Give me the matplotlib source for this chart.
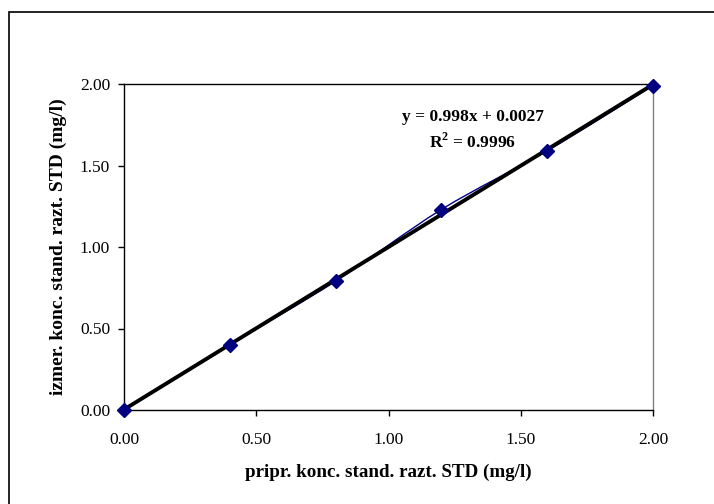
import numpy as np
import matplotlib.pyplot as plt
from matplotlib.path import Path
from matplotlib.patches import PathPatch, Rectangle

# measured vs prepared standard concentrations (mg/l)
x_prep = [0.0, 0.4, 0.8, 1.2, 1.6, 2.0]
y_meas = [0.0, 0.40, 0.79, 1.23, 1.59, 1.99]
x_ticks = [0.0, 0.5, 1.0, 1.5, 2.0]
y_ticks = [0.0, 0.5, 1.0, 1.5, 2.0]
eq_text = "y = 0.998x + 0.0027"
r2_text = "R$^{2}$ = 0.9996"

plt.rcParams['font.family'] = ['Liberation Serif', 'DejaVu Serif']
plt.rcParams['mathtext.fontset'] = 'custom'
plt.rcParams['mathtext.rm'] = 'Liberation Serif:bold'
plt.rcParams['mathtext.bf'] = 'Liberation Serif:bold'

W, H = 714, 504
fig = plt.figure(figsize=(W / 100, H / 100), dpi=100)
ax = fig.add_axes([124 / W, 1 - 410 / H, (653 - 124) / W, (410 - 84) / H])

# smoothed connecting line (Excel-like bezier through points)
px = np.array(x_prep)
py = np.array(y_meas)
verts = [(px[0], py[0])]
codes = [Path.MOVETO]
t = 1.0 / 6
for i in range(len(px) - 1):
    p0 = np.array([px[max(i - 1, 0)], py[max(i - 1, 0)]])
    p1 = np.array([px[i], py[i]])
    p2 = np.array([px[i + 1], py[i + 1]])
    p3 = np.array([px[min(i + 2, len(px) - 1)], py[min(i + 2, len(px) - 1)]])
    c1 = p1 + (p2 - p0) * t
    c2 = p2 - (p3 - p1) * t
    verts += [tuple(c1), tuple(c2), tuple(p2)]
    codes += [Path.CURVE4] * 3
ax.add_patch(PathPatch(Path(verts, codes), facecolor='none',
                       edgecolor='#000080', lw=1.0, zorder=2))

# linear trendline
k, b = np.polyfit(x_prep, y_meas, 1)
xl = np.array([0.0, 2.0])
ax.plot(xl, k * xl + b, color='black', lw=2.8, zorder=3, solid_capstyle='butt')

ax.plot(x_prep, y_meas, linestyle='none', marker='D', ms=7.5,
        color='#000080', zorder=4, clip_on=False)

ax.set_xlim(0, 2)
ax.set_ylim(0, 2)
ax.set_xticks(x_ticks)
ax.set_yticks(y_ticks)
ax.set_xticklabels([f"{v:.2f}" for v in x_ticks])
ax.set_yticklabels([f"{v:.2f}" for v in y_ticks])
ax.tick_params(direction='out', length=4, width=1, labelsize=12.5)
ax.tick_params(axis='x', pad=12)
ax.tick_params(axis='y', pad=6)
for s in ['left', 'bottom', 'top']:
    ax.spines[s].set_color('black')
ax.spines['right'].set_color('#808080')
for s in ax.spines.values():
    s.set_linewidth(1.0)

ax.set_xlabel("pripr. konc. stand. razt. STD (mg/l)", fontsize=13.7,
              fontweight='bold', labelpad=11)
ax.set_ylabel("izmer. konc. stand. razt. STD (mg/l)", fontsize=14,
              fontweight='bold', labelpad=9)

ax.text(1.319, 1.80, eq_text, fontsize=12.5, fontweight='bold',
        ha='center', va='center')
ax.text(1.319, 1.645, r2_text, fontsize=12.5, fontweight='bold',
        ha='center', va='center')

# chart area border: only top and left edges fall inside the picture
fig.patches.append(Rectangle((8.5 / W, -0.05), 1.1, 1 - 12 / H + 0.05,
                             transform=fig.transFigure, fill=False,
                             edgecolor='black', lw=1.2))

fig.savefig("out.png", dpi=100)
